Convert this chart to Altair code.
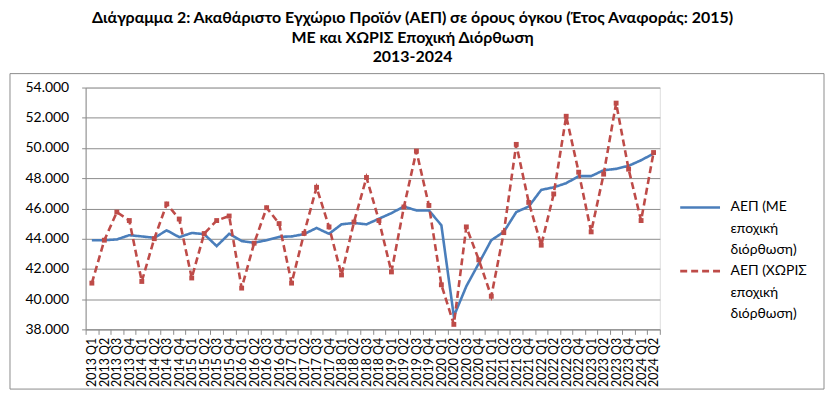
import altair as alt
import pandas as pd

quarters = [
    "2013 Q1", "2013 Q2", "2013 Q3", "2013 Q4",
    "2014 Q1", "2014 Q2", "2014 Q3", "2014 Q4",
    "2015 Q1", "2015 Q2", "2015 Q3", "2015 Q4",
    "2016 Q1", "2016 Q2", "2016 Q3", "2016 Q4",
    "2017 Q1", "2017 Q2", "2017 Q3", "2017 Q4",
    "2018 Q1", "2018 Q2", "2018 Q3", "2018 Q4",
    "2019 Q1", "2019 Q2", "2019 Q3", "2019 Q4",
    "2020 Q1", "2020 Q2", "2020 Q3", "2020 Q4",
    "2021 Q1", "2021 Q2", "2021 Q3", "2021 Q4",
    "2022 Q1", "2022 Q2", "2022 Q3", "2022 Q4",
    "2023 Q1", "2023 Q2", "2023 Q3", "2023 Q4",
    "2024 Q1", "2024 Q2",
]

gdp_sa = [
    43900, 43900, 43950, 44230,
    44150, 44060, 44550, 44100,
    44380, 44300, 43510, 44320,
    43840, 43730, 43900, 44120,
    44150, 44300, 44710, 44320,
    44950, 45040, 44950, 45320,
    45690, 46130, 45870, 45870,
    44890, 38870, 40850, 42370,
    43900, 44450, 45760, 46130,
    47230, 47400, 47670, 48140,
    48140, 48530, 48620, 48820,
    49190, 49630,
]

gdp_nsa = [
    41060, 43900, 45760, 45200,
    41170, 44000, 46300, 45300,
    41400, 44340, 45200, 45500,
    40730, 43700, 46050, 45000,
    41060, 44350, 47400, 44780,
    41600, 45100, 48050, 45200,
    41800, 46100, 49800, 46200,
    40950, 38330, 44780, 42600,
    40190, 44400, 50240, 46400,
    43570, 46960, 52100, 48400,
    44450, 48270, 52970, 48600,
    45200, 49700,
]

y_ticks = [38000, 40000, 42000, 44000, 46000, 48000, 50000, 52000, 54000]

series_names = ["ΑΕΠ (ΜΕ εποχική διόρθωση)", "ΑΕΠ (ΧΩΡΙΣ εποχική διόρθωση)"]
series_colors = ["#4A7EBB", "#BE4B48"]

title_lines = [
    "Διάγραμμα 2: Ακαθάριστο Εγχώριο Προϊόν (ΑΕΠ) σε όρους όγκου (Έτος Αναφοράς: 2015)",
    "ΜΕ και ΧΩΡΙΣ Εποχική Διόρθωση",
    "2013-2024",
]

df = pd.DataFrame({
    "quarter": quarters * 2,
    "value": gdp_sa + gdp_nsa,
    "series": [series_names[0]] * len(quarters) + [series_names[1]] * len(quarters),
})

FONT = "Lato"
GRID = "#8C8C8C"
LABEL_EXPR = "split(replace(datum.label, ' εποχική ', '|εποχική|'), '|')"

x_enc = alt.X(
    "quarter:O",
    sort=quarters,
    scale=alt.Scale(type="band", paddingInner=0, paddingOuter=0),
    bandPosition=0.5,
    axis=alt.Axis(
        title=None, labelAngle=-90, labelFont=FONT, labelFontSize=12.5,
        labelColor="#000000", tickBand="extent", tickSize=5, tickColor=GRID,
        domainColor=GRID, labelPadding=3, grid=False, labelOverlap=False,
    ),
)
y_enc = alt.Y(
    "value:Q",
    scale=alt.Scale(domain=[38000, 54000], nice=False),
    axis=alt.Axis(
        title=None, values=y_ticks,
        labelExpr="replace(format(datum.value, ',.0f'), ',', '.')",
        labelFont=FONT, labelFontSize=14, labelColor="#000000",
        tickSize=4, tickColor=GRID, domainColor=GRID, labelPadding=13,
        grid=True, gridColor=GRID, gridWidth=1, labelOverlap=False,
    ),
)

lines = alt.Chart(df).mark_line(strokeWidth=2.6).encode(
    x=x_enc,
    y=y_enc,
    color=alt.Color(
        "series:N",
        scale=alt.Scale(domain=series_names, range=series_colors),
        legend=alt.Legend(
            title=None, orient="none", legendX=596, legendY=99,
            values=[series_names[0]],
            symbolType="stroke", symbolSize=1600, symbolStrokeWidth=2.6,
            labelFont=FONT, labelFontSize=14, labelLimit=300,
            labelExpr=LABEL_EXPR,
            labelBaseline="middle", labelOffset=9, padding=0,
        ),
    ),
    strokeDash=alt.StrokeDash(
        "series:N",
        scale=alt.Scale(domain=series_names[::-1], range=[[7, 4], [1, 0]]),
        legend=alt.Legend(
            title=None, orient="none", legendX=596, legendY=163,
            values=[series_names[1]],
            symbolType="stroke", symbolSize=1600, symbolStrokeWidth=2.6,
            symbolStrokeColor=series_colors[1],
            labelFont=FONT, labelFontSize=14, labelLimit=300,
            labelExpr=LABEL_EXPR,
            labelBaseline="middle", labelOffset=9, padding=0,
        ),
    ),
)

points = alt.Chart(df).transform_filter(
    alt.datum.series == series_names[1]
).mark_point(shape="square", filled=True, size=24, opacity=1, color=series_colors[1]).encode(
    x=x_enc,
    y=y_enc,
)

border = alt.Chart(pd.DataFrame({"a": [0]})).mark_rect(
    fill=None, stroke="#8C8C8C", strokeWidth=1
).encode(
    x=alt.value(-76), x2=alt.value(742), y=alt.value(-14), y2=alt.value(303)
)

chart = alt.layer(border, lines, points).properties(
    width=577,
    height=243,
    padding={"left": 78, "top": 79, "right": 167, "bottom": 61},
    autosize=alt.AutoSizeParams(type="none"),
    title=alt.TitleParams(
        text=title_lines, font=FONT, fontSize=16, fontWeight="bold",
        anchor="middle", dx=40, offset=8, lineHeight=19.5, color="#000000",
    ),
).configure_view(stroke=None).configure(
    background="#FFFFFF",
    style={"guide-label": {"lineHeight": 21.5}},
)

chart.save("out.html", embed_options={"renderer": "svg", "actions": False})
